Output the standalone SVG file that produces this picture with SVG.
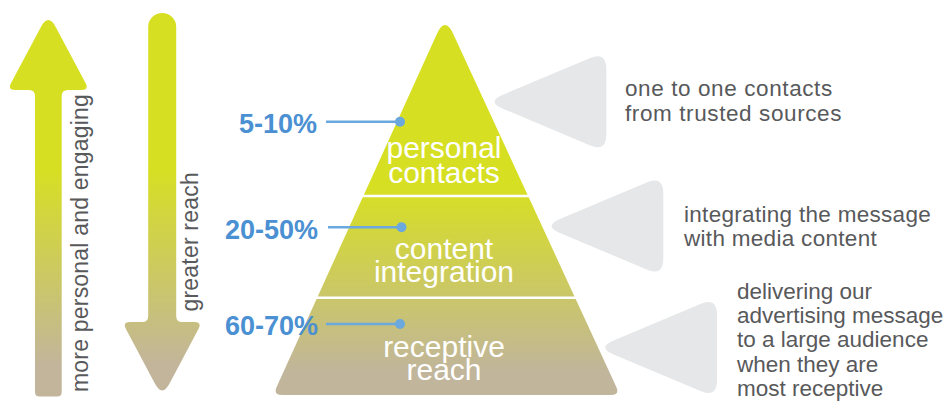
<svg xmlns="http://www.w3.org/2000/svg" xmlns:xlink="http://www.w3.org/1999/xlink" width="944" height="414" viewBox="0 0 944 414">
  <defs>
    <!-- yellow-green fading to khaki, shared by the arrows -->
    <linearGradient id="arrowFade" gradientUnits="userSpaceOnUse" x1="0" y1="170" x2="0" y2="365">
      <stop offset="0" stop-color="#d7df23"/>
      <stop offset="1" stop-color="#c2b59b"/>
    </linearGradient>
    <!-- pyramid shading -->
    <linearGradient id="pyramidFade" gradientUnits="userSpaceOnUse" x1="0" y1="190" x2="0" y2="372">
      <stop offset="0" stop-color="#d7df23"/>
      <stop offset="1" stop-color="#c1b59b"/>
    </linearGradient>
    <!-- rounded pointer triangle, tip at the origin -->
    <path id="pointer" d="M 7.6,-6.98 L 94.4,-43.5 Q 111,-50.5 111,-32.5 L 111,32.5 Q 111,50.5 94.4,43.5 L 7.6,6.98 Q -9,0 7.6,-6.98 Z"/>
  </defs>
  <style>
    .grey-text { font-family: "Liberation Sans", Arial, Helvetica, sans-serif; font-size: 22.5px; fill: #58595b; }
    .axis-text { font-family: "Liberation Sans", Arial, Helvetica, sans-serif; font-size: 23px; fill: #58595b; letter-spacing: 0.2px; }
    .tier-text { font-family: "Liberation Sans", Arial, Helvetica, sans-serif; font-size: 30px; fill: #ffffff; text-anchor: middle; }
    .pct-text { font-family: "Liberation Sans", Arial, Helvetica, sans-serif; font-size: 27px; font-weight: bold; fill: #4a90d2; text-anchor: end; }
    .pointer { fill: #e6e7e8; }
    .leader { stroke: #6aa8dd; stroke-width: 2.5; fill: none; }
    .leader-dot { fill: #6aa8dd; }
  </style>

  <rect width="944" height="414" fill="#ffffff"/>

  <!-- upward arrow -->
  <g id="arrow-personal">
    <path fill="url(#arrowFade)" d="M 35,392 L 35,96 Q 35,90 29,90 L 15.3,90 Q 7.3,90 11.06,82.94 L 40.78,27.13 Q 48.3,13 55.82,27.13 L 85.54,82.94 Q 89.3,90 81.3,90 L 67.7,90 Q 61.7,90 61.7,96 L 61.7,392 Q 61.7,396.5 57.2,396.5 L 39.5,396.5 Q 35,396.5 35,392 Z"/>
    <text class="axis-text" transform="translate(87.5,392) rotate(-90)">more personal and engaging</text>
  </g>

  <!-- downward arrow -->
  <g id="arrow-reach">
    <path fill="url(#arrowFade)" d="M 148.2,27 A 14 14 0 0 1 176.2,27 L 176.2,316 Q 176.2,322 182.2,322 L 194.2,322 Q 202.2,322 198.46,329.07 L 169.69,383.36 Q 162.2,397.5 154.71,383.36 L 125.94,329.07 Q 122.2,322 130.2,322 L 142.2,322 Q 148.2,322 148.2,316 Z"/>
    <text class="axis-text" transform="translate(197.5,311.5) rotate(-90)">greater reach</text>
  </g>

  <!-- pyramid tiers -->
  <g id="tier-personal">
    <path fill="url(#pyramidFade)" d="M 363.9,194.7 L 436.73,34.21 Q 445,16 453.38,34.16 L 527.51,194.7 Z"/>
    <text class="tier-text"><tspan x="444" y="158">personal</tspan><tspan x="444" y="182.5">contacts</tspan></text>
  </g>
  <g id="tier-content">
    <path fill="url(#pyramidFade)" d="M 362.72,197.3 L 528.71,197.3 L 574.47,296.4 L 317.75,296.4 Z"/>
    <text class="tier-text"><tspan x="444" y="259">content</tspan><tspan x="444" y="282">integration</tspan></text>
  </g>
  <g id="tier-reach">
    <path fill="url(#pyramidFade)" d="M 316.57,299 L 575.67,299 L 616.23,386.83 Q 620,395 611,395 L 282,395 Q 273,395 276.72,386.8 Z"/>
    <text class="tier-text"><tspan x="444" y="356.5">receptive</tspan><tspan x="444" y="380">reach</tspan></text>
  </g>

  <!-- percentage labels -->
  <g id="pct-personal">
    <text class="pct-text" x="317" y="133">5-10%</text>
  </g>
  <g id="pct-content">
    <text class="pct-text" x="318" y="239">20-50%</text>
  </g>
  <g id="pct-reach">
    <text class="pct-text" x="318" y="335">60-70%</text>
  </g>

  <!-- leaders from percentages into the tiers -->
  <g id="connectors">
    <line class="leader" x1="326" y1="121.7" x2="400" y2="121.7"/>
    <circle class="leader-dot" cx="400" cy="121.7" r="5"/>
    <line class="leader" x1="328" y1="227.3" x2="401.5" y2="227.3"/>
    <circle class="leader-dot" cx="401.5" cy="227.3" r="5"/>
    <line class="leader" x1="326" y1="324" x2="400" y2="324"/>
    <circle class="leader-dot" cx="400" cy="324" r="5"/>
  </g>

  <!-- descriptions with pointers -->
  <g id="desc-personal">
    <use xlink:href="#pointer" href="#pointer" class="pointer" transform="translate(495.3,101.7)"/>
    <text class="grey-text" style="letter-spacing:0.6px"><tspan x="625" y="96">one to one contacts</tspan><tspan x="625" y="120.5">from trusted sources</tspan></text>
  </g>
  <g id="desc-content">
    <use xlink:href="#pointer" href="#pointer" class="pointer" transform="translate(552.3,226)"/>
    <text class="grey-text" style="letter-spacing:0.3px"><tspan x="684" y="221.5">integrating the message</tspan><tspan x="684" y="245.5">with media content</tspan></text>
  </g>
  <g id="desc-reach">
    <use xlink:href="#pointer" href="#pointer" class="pointer" transform="translate(606,347.5)"/>
    <text class="grey-text"><tspan x="737" y="298.5">delivering our</tspan><tspan x="737" y="323">advertising message</tspan><tspan x="737" y="347.3">to a large audience</tspan><tspan x="737" y="371.7">when they are</tspan><tspan x="737" y="396">most receptive</tspan></text>
  </g>
</svg>
